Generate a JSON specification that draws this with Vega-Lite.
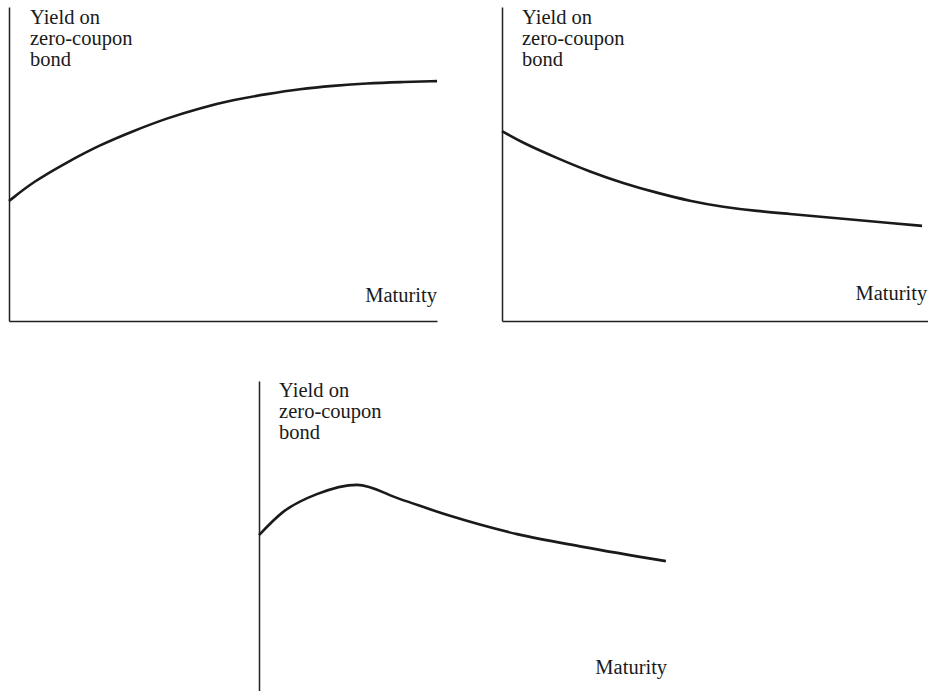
{
  "$schema": "https://vega.github.io/schema/vega-lite/v6.json",
  "background": "white",
  "padding": {"left": 3, "top": 7, "right": 0, "bottom": 0},
  "config": {
    "view": {"stroke": null},
    "axis": {"labels": false, "ticks": false, "grid": false, "title": null, "domainColor": "#222222", "domainWidth": 1.5, "minExtent": 0, "maxExtent": 0, "offset": 0}
  },
  "datasets": {
    "curves": [
      {"panel": "A", "maturity": 0, "yield": 3.82},
      {"panel": "A", "maturity": 0.56, "yield": 4.43},
      {"panel": "A", "maturity": 1.36, "yield": 5.06},
      {"panel": "A", "maturity": 2.13, "yield": 5.61},
      {"panel": "A", "maturity": 2.9, "yield": 6.05},
      {"panel": "A", "maturity": 3.69, "yield": 6.46},
      {"panel": "A", "maturity": 4.46, "yield": 6.78},
      {"panel": "A", "maturity": 5.23, "yield": 7.04},
      {"panel": "A", "maturity": 6.03, "yield": 7.23},
      {"panel": "A", "maturity": 6.8, "yield": 7.39},
      {"panel": "A", "maturity": 7.57, "yield": 7.49},
      {"panel": "A", "maturity": 8.36, "yield": 7.57},
      {"panel": "A", "maturity": 9.14, "yield": 7.61},
      {"panel": "A", "maturity": 10, "yield": 7.64},
      {"panel": "B", "maturity": 0, "yield": 6.05},
      {"panel": "B", "maturity": 0.49, "yield": 5.67},
      {"panel": "B", "maturity": 1.29, "yield": 5.19},
      {"panel": "B", "maturity": 2.07, "yield": 4.75},
      {"panel": "B", "maturity": 2.84, "yield": 4.39},
      {"panel": "B", "maturity": 3.64, "yield": 4.08},
      {"panel": "B", "maturity": 4.41, "yield": 3.82},
      {"panel": "B", "maturity": 5.19, "yield": 3.63},
      {"panel": "B", "maturity": 5.99, "yield": 3.5},
      {"panel": "B", "maturity": 6.76, "yield": 3.41},
      {"panel": "B", "maturity": 7.54, "yield": 3.31},
      {"panel": "B", "maturity": 8.33, "yield": 3.22},
      {"panel": "B", "maturity": 9.11, "yield": 3.12},
      {"panel": "B", "maturity": 9.86, "yield": 3.03},
      {"panel": "C", "maturity": 0, "yield": 5.03},
      {"panel": "C", "maturity": 0.57, "yield": 5.77},
      {"panel": "C", "maturity": 1.38, "yield": 6.35},
      {"panel": "C", "maturity": 2.34, "yield": 6.65},
      {"panel": "C", "maturity": 3.37, "yield": 6.19},
      {"panel": "C", "maturity": 4.56, "yield": 5.65},
      {"panel": "C", "maturity": 6.16, "yield": 5.06},
      {"panel": "C", "maturity": 7.73, "yield": 4.65},
      {"panel": "C", "maturity": 9.71, "yield": 4.19}
    ],
    "ytitles": [
      {"panel": "A", "maturity": 0.49, "yield": 9.46, "label": "Yield on\nzero-coupon\nbond"},
      {"panel": "B", "maturity": 0.47, "yield": 9.46, "label": "Yield on\nzero-coupon\nbond"},
      {"panel": "C", "maturity": 0.48, "yield": 9.48, "label": "Yield on\nzero-coupon\nbond"}
    ],
    "xtitles": [
      {"panel": "A", "maturity": 10, "yield": 0.61, "label": "Maturity"},
      {"panel": "B", "maturity": 9.98, "yield": 0.67, "label": "Maturity"},
      {"panel": "C", "maturity": 9.74, "yield": 0.55, "label": "Maturity"}
    ]
  },
  "vconcat": [
    {
      "spacing": 53,
      "hconcat": [
        {
          "width": 428, "height": 314,
          "layer": [
            {"data": {"name": "curves"}, "transform": [{"filter": "datum.panel === 'A'"}],
             "mark": {"type": "line", "interpolate": "basis", "color": "#1a1a1a", "strokeWidth": 2.6},
             "encoding": {"x": {"field": "maturity", "type": "quantitative", "scale": {"domain": [0, 10]}},
                          "y": {"field": "yield", "type": "quantitative", "scale": {"domain": [0, 10]}}}},
            {"data": {"name": "ytitles"}, "transform": [{"filter": "datum.panel === 'A'"}],
             "mark": {"type": "text", "align": "left", "baseline": "alphabetic", "lineBreak": "\n", "font": "Liberation Serif", "fontSize": 20.5, "lineHeight": 21, "color": "#1a1a1a"},
             "encoding": {"x": {"field": "maturity", "type": "quantitative"}, "y": {"field": "yield", "type": "quantitative"}, "text": {"field": "label"}}},
            {"data": {"name": "xtitles"}, "transform": [{"filter": "datum.panel === 'A'"}],
             "mark": {"type": "text", "align": "right", "baseline": "alphabetic", "font": "Liberation Serif", "fontSize": 20.5, "color": "#1a1a1a"},
             "encoding": {"x": {"field": "maturity", "type": "quantitative"}, "y": {"field": "yield", "type": "quantitative"}, "text": {"field": "label"}}}
          ]
        },
        {
          "width": 426, "height": 314,
          "layer": [
            {"data": {"name": "curves"}, "transform": [{"filter": "datum.panel === 'B'"}],
             "mark": {"type": "line", "interpolate": "basis", "color": "#1a1a1a", "strokeWidth": 2.6},
             "encoding": {"x": {"field": "maturity", "type": "quantitative", "scale": {"domain": [0, 10]}},
                          "y": {"field": "yield", "type": "quantitative", "scale": {"domain": [0, 10]}}}},
            {"data": {"name": "ytitles"}, "transform": [{"filter": "datum.panel === 'B'"}],
             "mark": {"type": "text", "align": "left", "baseline": "alphabetic", "lineBreak": "\n", "font": "Liberation Serif", "fontSize": 20.5, "lineHeight": 21, "color": "#1a1a1a"},
             "encoding": {"x": {"field": "maturity", "type": "quantitative"}, "y": {"field": "yield", "type": "quantitative"}, "text": {"field": "label"}}},
            {"data": {"name": "xtitles"}, "transform": [{"filter": "datum.panel === 'B'"}],
             "mark": {"type": "text", "align": "right", "baseline": "alphabetic", "font": "Liberation Serif", "fontSize": 20.5, "color": "#1a1a1a"},
             "encoding": {"x": {"field": "maturity", "type": "quantitative"}, "y": {"field": "yield", "type": "quantitative"}, "text": {"field": "label"}}}
          ]
        }
      ]
    },
    {
      "width": 419, "height": 310,
      "layer": [
        {"data": {"name": "curves"}, "transform": [{"filter": "datum.panel === 'C'"}],
         "mark": {"type": "line", "interpolate": "monotone", "color": "#1a1a1a", "strokeWidth": 2.6},
         "encoding": {"x": {"field": "maturity", "type": "quantitative", "scale": {"domain": [0, 10]}, "axis": null},
                      "y": {"field": "yield", "type": "quantitative", "scale": {"domain": [0, 10]}}}},
        {"data": {"name": "ytitles"}, "transform": [{"filter": "datum.panel === 'C'"}],
         "mark": {"type": "text", "align": "left", "baseline": "alphabetic", "lineBreak": "\n", "font": "Liberation Serif", "fontSize": 20.5, "lineHeight": 21, "color": "#1a1a1a"},
         "encoding": {"x": {"field": "maturity", "type": "quantitative"}, "y": {"field": "yield", "type": "quantitative"}, "text": {"field": "label"}}},
        {"data": {"name": "xtitles"}, "transform": [{"filter": "datum.panel === 'C'"}],
         "mark": {"type": "text", "align": "right", "baseline": "alphabetic", "font": "Liberation Serif", "fontSize": 20.5, "color": "#1a1a1a"},
         "encoding": {"x": {"field": "maturity", "type": "quantitative"}, "y": {"field": "yield", "type": "quantitative"}, "text": {"field": "label"}}}
      ]
    }
  ],
  "spacing": 60,
  "center": true
}
